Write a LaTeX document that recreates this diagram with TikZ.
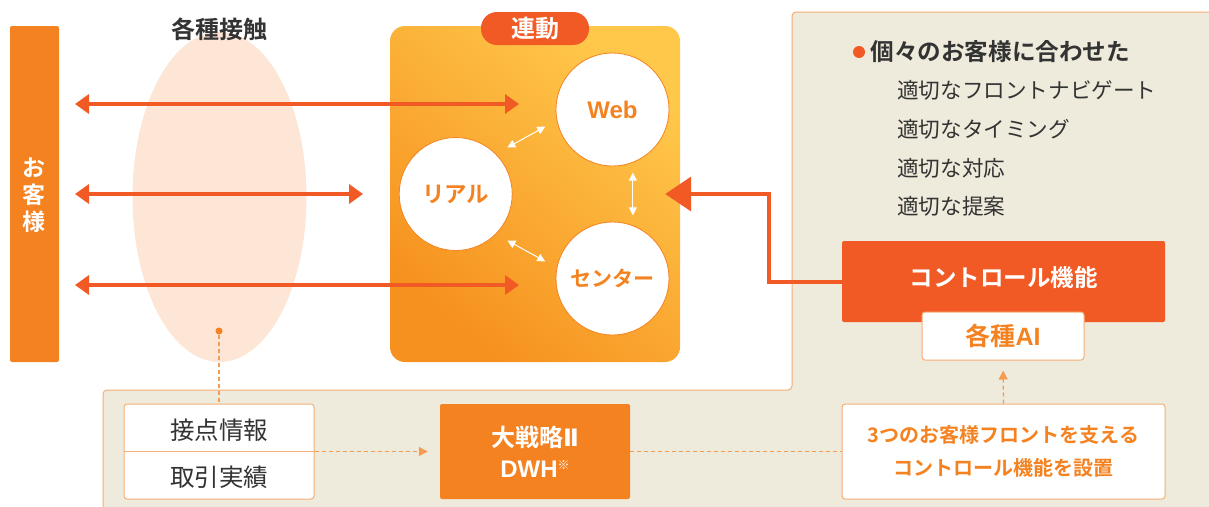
\documentclass[tikz,border=0pt]{standalone}
\usepackage{fontspec}
\setmainfont{Noto Sans CJK JP}[BoldFont={Noto Sans CJK JP Bold}]
\newfontfamily\lat{Liberation Sans}
\newfontfamily\sym{DejaVu Sans}
\usetikzlibrary{arrows.meta}
\usetikzlibrary{positioning}
\usetikzlibrary{shapes.geometric}

\definecolor{redorange}{HTML}{F15A24}
\definecolor{custorange}{HTML}{F58220}
\definecolor{paneline}{HTML}{F6AE74}
\definecolor{beige}{HTML}{EEEBDC}
\definecolor{peach}{HTML}{FDE6D5}
\definecolor{gradlow}{HTML}{F6901E}
\definecolor{gradhigh}{HTML}{FFC84B}
\definecolor{textdark}{HTML}{333333}
\definecolor{dashcol}{HTML}{F59B52}

\newcommand\fsz[1]{\fontsize{#1pt}{#1pt}\selectfont}

\begin{document}
\begin{tikzpicture}[x=1pt,y=-1pt,
    hot/.style={draw=redorange,line width=3.5pt,arrows={Triangle[length=14pt,width=19pt]-Triangle[length=14pt,width=19pt]}},
    link/.style={draw=white,line width=1pt,arrows={Triangle[length=8pt,width=8pt]-Triangle[length=8pt,width=8pt]},shorten <=13pt,shorten >=13pt},
    chan/.style={circle,draw=custorange,line width=0.8pt,fill=white,minimum size=113pt,inner sep=0pt,text=custorange,font=\fsz{22.5}\bfseries},
    whitebox/.style={draw=paneline,line width=1pt,fill=white,rounded corners=3pt,inner sep=0pt},
    dots/.style={draw=dashcol,line width=1.3pt,dash pattern=on 4pt off 3pt},
    dotarrow/.style={dots,arrows={-Triangle[length=9pt,width=9pt]}},
    item/.style={anchor=west,inner sep=0pt,text=textdark,font=\fsz{21.6}}]

  \useasboundingbox (0,0) rectangle (1209,506);

  \path [fill=beige,draw=paneline,line width=1pt,rounded corners=4pt]
    (103,515) -- (103,390) -- (792,390) -- (792,12) -- (1220,12) -- (1220,515) -- cycle;

  \node [fill=custorange,rounded corners=2pt,minimum width=49pt,minimum height=336pt,inner sep=0pt] (cust) at (34.5,194) {};
  \node [text=white,align=center,font=\fontsize{23pt}{27pt}\selectfont\bfseries] (custlab) at (34.5,195) {お\\客\\様};

  \node [ellipse,fill=peach,minimum width=174pt,minimum height=330pt,inner sep=0pt] (touch) at (219.5,197) {};
  \node [text=textdark,font=\fsz{24}\bfseries] (touchlab) at (219,29) {各種接触};

  \shade [rounded corners=15pt,bottom color=gradlow,top color=gradhigh,shading angle=-40]
    (390,26) rectangle (680,362);
  \node [minimum width=290pt,minimum height=336pt,inner sep=0pt] (sync) at (535,194) {};
  \node [fill=redorange,rounded corners=16pt,minimum width=108pt,minimum height=33pt,inner sep=0pt,text=white,font=\fsz{24}\bfseries] (synctag) at (535,28.5) {連動};

  \node [chan,font=\lat\fsz{24}\bfseries] (web) at (612.5,109.5) {Web};
  \node [chan] (real) at (455.7,194) {リアル};
  \node [chan,font=\fsz{21}\bfseries] (center) at (612.5,278.5) {センター};

  \draw [link] (real.45) -- (web.191);
  \draw [link] (real.-45) -- (center.169);
  \draw [link,shorten <=10pt,shorten >=10pt] (web.-69) -- (center.69);

  \coordinate (fromweb) at (75,104);
  \coordinate (toweb) at (519,104);
  \coordinate (fromreal) at (75,194);
  \coordinate (toreal) at (363,194);
  \coordinate (fromcenter) at (75,285);
  \coordinate (tocenter) at (519,285);
  \draw [hot] (fromweb) -- (toweb);
  \draw [hot] (fromreal) -- (toreal);
  \draw [hot] (fromcenter) -- (tocenter);

  \node [fill=redorange,circle,minimum size=12pt,inner sep=0pt] (bullet) at (859,52) {};
  \node [item,font=\fsz{23.6}\bfseries,right=5pt of bullet] (fit) {個々のお客様に合わせた};
  \node [item] (navi) at (897,90) {適切なフロントナビゲート};
  \node [item] (timing) at (897,129) {適切なタイミング};
  \node [item] (reply) at (897,168) {適切な対応};
  \node [item] (offer) at (897,206) {適切な提案};

  \node [fill=redorange,rounded corners=2pt,minimum width=323pt,minimum height=81pt,inner sep=0pt] (ctrl) at (1003.5,281.5) {};
  \node [text=white,font=\fsz{23.5}\bfseries] (ctrllab) at (1003.5,278) {コントロール機能};
  \node [whitebox,minimum width=162pt,minimum height=48pt,text=custorange,font=\fsz{25}\bfseries] (ai) at (1003,336) {各種{\lat AI}};

  \draw [draw=redorange,line width=4pt,arrows={-Triangle[length=26pt,width=34pt]}]
    (ctrl.west) -- ++(-73,0) |- ([xshift=-15pt]sync.east);

  \node [whitebox,minimum width=190pt,minimum height=95pt] (info) at (219,451.5) {};
  \draw [draw=paneline,line width=1pt] (info.west) -- (info.east);
  \node [text=textdark,font=\fsz{24.5}] (contact) at (219,430) {接点情報};
  \node [text=textdark,font=\fsz{24.5}] (record) at (219,477) {取引実績};

  \node [fill=custorange,circle,minimum size=7pt,inner sep=0pt] (touchdot) at (219,331) {};
  \draw [dots] (touchdot) -- (info.north);

  \node [fill=custorange,rounded corners=2pt,minimum width=190pt,minimum height=95pt,inner sep=0pt,
    text=white,align=center,font=\fontsize{24pt}{31pt}\selectfont\bfseries] (dwh) at (535,451.5)
    {大戦略{\sym Ⅱ}\\{\lat DWH}\raisebox{8pt}{\fsz{12}※}};

  \node [whitebox,minimum width=323pt,minimum height=95pt,text=custorange,align=center,
    font=\fontsize{20pt}{33pt}\selectfont\bfseries] (front) at (1003.5,451.5)
    {3つのお客様フロントを支える\\コントロール機能を設置};

  \draw [dotarrow,shorten >=12pt] (info.east) -- (dwh.west);
  \draw [dots] (dwh.east) -- (front.west);
  \draw [dotarrow,shorten >=10pt] (front.north) -- (ai.south);

\end{tikzpicture}
\end{document}
